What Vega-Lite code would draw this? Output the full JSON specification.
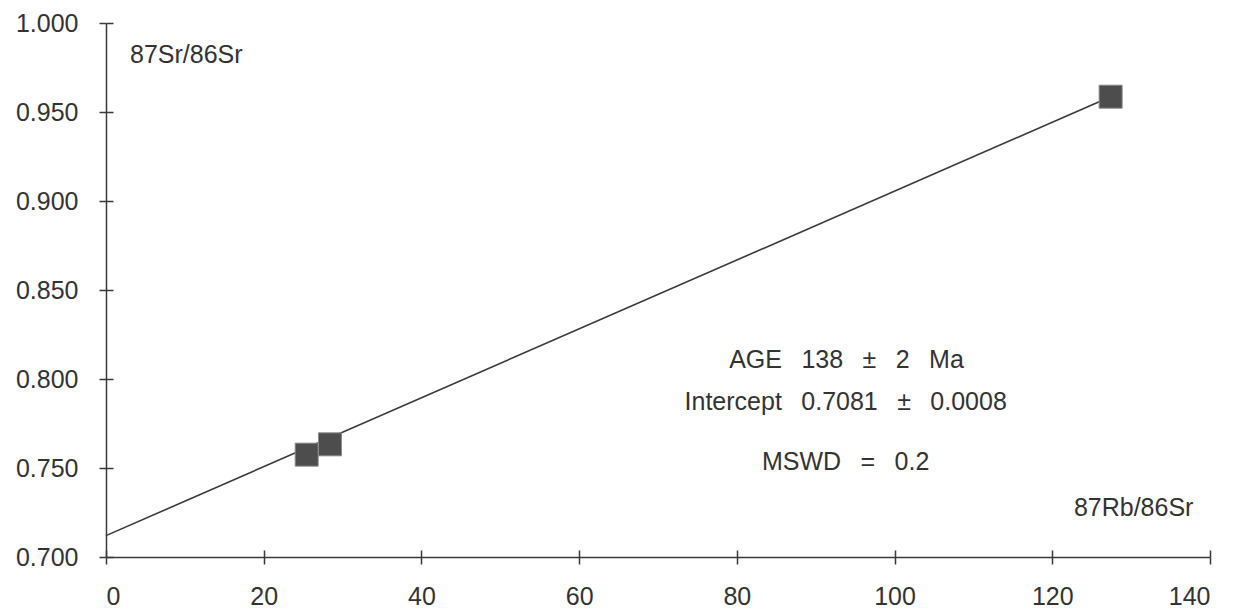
{
  "$schema": "https://vega.github.io/schema/vega-lite/v6.json",
  "width": 1104,
  "height": 534,
  "autosize": {"type": "none"},
  "padding": {"left": 106, "top": 23, "right": 37, "bottom": 57},
  "background": "white",
  "config": {
    "view": {"stroke": null},
    "font": "Liberation Sans",
    "axis": {"grid": false, "domainColor": "#3a3a3a", "tickColor": "#3a3a3a", "domainWidth": 1.5, "tickWidth": 1.5, "labelColor": "#333333", "labelFont": "Liberation Sans", "labelFontSize": 25, "title": null}
  },
  "datasets": {
    "isochron": [
      {"rb": 0, "sr": 0.712},
      {"rb": 127.4, "sr": 0.9586}
    ],
    "samples": [
      {"rb": 25.45, "sr": 0.7575},
      {"rb": 28.4, "sr": 0.7633},
      {"rb": 127.4, "sr": 0.9586}
    ],
    "notes": [
      {"label": "87Sr/86Sr", "rb": 3.04, "sr": 0.9820, "anchor": "left"},
      {"label": "87Rb/86Sr", "rb": 137.9, "sr": 0.7275, "anchor": "right"},
      {"label": "AGE \u2002138 \u2002± \u20022 \u2002Ma", "rb": 93.9, "sr": 0.8107, "anchor": "center"},
      {"label": "Intercept \u20020.7081 \u2002± \u20020.0008", "rb": 93.8, "sr": 0.7871, "anchor": "center"},
      {"label": "MSWD \u2002= \u20020.2", "rb": 93.8, "sr": 0.7534, "anchor": "center"}
    ]
  },
  "resolve": {"axis": {"x": "independent", "y": "independent"}},
  "layer": [
    {
      "data": {"name": "isochron"},
      "mark": {"type": "line", "color": "#3a3a3a", "strokeWidth": 1.6},
      "encoding": {
        "x": {"field": "rb", "type": "quantitative", "scale": {"domain": [0, 140], "nice": false, "zero": false},
              "axis": {"orient": "bottom", "values": [0, 20, 40, 60, 80, 100, 120, 140], "tickSize": 7, "labelPadding": 20}},
        "y": {"field": "sr", "type": "quantitative", "scale": {"domain": [0.7, 1.0], "nice": false, "zero": false},
              "axis": {"orient": "left", "values": [0.7, 0.75, 0.8, 0.85, 0.9, 0.95, 1.0], "format": ".3f", "tickSize": 7, "labelPadding": 21}}
      }
    },
    {
      "data": {"name": "samples"},
      "mark": {"type": "square", "filled": true, "color": "#4d4d4d", "stroke": "#8a8a8a", "strokeWidth": 1, "opacity": 1, "size": 529},
      "encoding": {
        "x": {"field": "rb", "type": "quantitative", "axis": {"orient": "bottom", "values": [0, 20, 40, 60, 80, 100, 120, 140], "tickSize": -7, "labels": false, "domain": false}},
        "y": {"field": "sr", "type": "quantitative", "axis": {"orient": "left", "values": [0.7, 0.75, 0.8, 0.85, 0.9, 0.95, 1.0], "tickSize": -7, "labels": false, "domain": false}}
      }
    },
    {
      "data": {"name": "notes"},
      "transform": [{"filter": "datum.anchor === 'left'"}],
      "mark": {"type": "text", "fontSize": 25, "color": "#333333", "baseline": "middle", "align": "left"},
      "encoding": {
        "x": {"field": "rb", "type": "quantitative", "axis": null},
        "y": {"field": "sr", "type": "quantitative", "axis": null},
        "text": {"field": "label"}
      }
    },
    {
      "data": {"name": "notes"},
      "transform": [{"filter": "datum.anchor === 'right'"}],
      "mark": {"type": "text", "fontSize": 25, "color": "#333333", "baseline": "middle", "align": "right"},
      "encoding": {
        "x": {"field": "rb", "type": "quantitative", "axis": null},
        "y": {"field": "sr", "type": "quantitative", "axis": null},
        "text": {"field": "label"}
      }
    },
    {
      "data": {"name": "notes"},
      "transform": [{"filter": "datum.anchor === 'center'"}],
      "mark": {"type": "text", "fontSize": 25, "color": "#333333", "baseline": "middle", "align": "center"},
      "encoding": {
        "x": {"field": "rb", "type": "quantitative", "axis": null},
        "y": {"field": "sr", "type": "quantitative", "axis": null},
        "text": {"field": "label"}
      }
    }
  ]
}
